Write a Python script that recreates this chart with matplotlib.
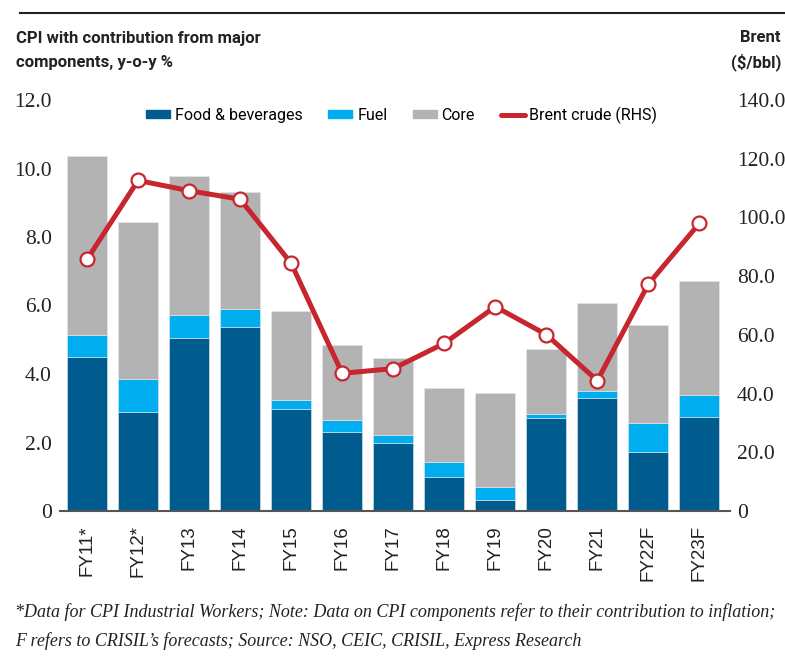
import numpy as np
import matplotlib.pyplot as plt
from matplotlib.patches import Patch
from matplotlib.lines import Line2D

years = ["FY11*", "FY12*", "FY13", "FY14", "FY15", "FY16", "FY17",
         "FY18", "FY19", "FY20", "FY21", "FY22F", "FY23F"]
food = [4.50, 2.90, 5.06, 5.38, 2.97, 2.32, 2.00, 1.00, 0.32, 2.72, 3.31, 1.73, 2.75]
fuel = [0.64, 0.96, 0.66, 0.52, 0.28, 0.35, 0.23, 0.43, 0.39, 0.11, 0.19, 0.84, 0.65]
core = [5.23, 4.59, 4.07, 3.40, 2.59, 2.18, 2.25, 2.16, 2.73, 1.89, 2.57, 2.85, 3.31]
brent = [85.7, 112.6, 109.1, 106.2, 84.4, 46.9, 48.5, 57.1, 69.6, 60.1, 44.4, 77.3, 98.0]

c_food = "#005b8f"
c_fuel = "#00adef"
c_core = "#b3b3b3"
c_red = "#c8262e"
serif = "Liberation Serif"
sans = "Roboto"

fig = plt.figure(figsize=(7.85, 6.65), dpi=100)
ax = fig.add_axes([60 / 785, 154 / 665, 670 / 785, 411 / 665])
x = np.arange(len(years))
food = np.array(food)
fuel = np.array(fuel)
core = np.array(core)

w = 0.78
ax.bar(x, food, w, color=c_food, edgecolor="#e8e8e8", linewidth=0.4)
ax.bar(x, fuel, w, bottom=food, color=c_fuel, edgecolor="#e8e8e8", linewidth=0.4)
ax.bar(x, core, w, bottom=food + fuel, color=c_core, edgecolor="#e8e8e8", linewidth=0.4)

ax.set_xlim(-0.53, len(years) - 0.4)
ax.set_ylim(0, 12)
ax.set_yticks(np.arange(0, 12.1, 2))
ax.set_yticklabels(["0"] + [f"{v:.1f}" for v in np.arange(2, 12.1, 2)],
                   fontfamily=serif, fontsize=15.5, color="#222222")
ax.set_xticks(x)
ax.set_xticklabels(years, rotation=90, fontfamily="Liberation Sans",
                   fontsize=13.5, color="#222222")
ax.tick_params(axis="both", length=0)
ax.tick_params(axis="y", pad=6)
ax.tick_params(axis="x", pad=10)
for s in ["top", "left", "right"]:
    ax.spines[s].set_visible(False)
ax.spines["bottom"].set_color("#555555")
ax.spines["bottom"].set_linewidth(1.5)

ax2 = ax.twinx()
ax2.plot(x, brent, color=c_red, linewidth=3.6, marker="o", markersize=10,
         markerfacecolor="white", markeredgecolor=c_red, markeredgewidth=1.6,
         zorder=5)
ax2.set_ylim(0, 140)
ax2.set_yticks(np.arange(0, 141, 20))
ax2.set_yticklabels(["0"] + [f"{v:.1f}" for v in np.arange(20, 141, 20)],
                    fontfamily=serif, fontsize=15.5, color="#222222")
ax2.tick_params(axis="y", length=0, pad=5)
for s in ["top", "left", "right", "bottom"]:
    ax2.spines[s].set_visible(False)

handles = [
    Patch(color=c_food, label="Food & beverages"),
    Patch(color=c_fuel, label="Fuel"),
    Patch(color=c_core, label="Core"),
    Line2D([0], [0], color=c_red, linewidth=3.6, solid_capstyle="round",
           label="Brent crude (RHS)"),
]
fig.legend(handles=handles, loc="center left", ncol=4,
           bbox_to_anchor=(132 / 785, 1 - 115 / 665), frameon=False,
           prop={"family": sans, "size": 11.5}, handlelength=1.5,
           handleheight=0.45, handletextpad=0.3, columnspacing=1.6)

# header
fig.add_artist(Line2D([20 / 785, 1.0], [1 - 13 / 665, 1 - 13 / 665],
                      color="#222222", linewidth=1.5))
fig.text(16 / 785, 1 - 38 / 665, "CPI with contribution from major",
         fontfamily=sans, fontweight="bold", fontsize=12, color="#222222",
         va="center", ha="left")
fig.text(16 / 785, 1 - 62 / 665, "components, y-o-y %",
         fontfamily=sans, fontweight="bold", fontsize=12, color="#222222",
         va="center", ha="left")
fig.text(781 / 785, 1 - 38 / 665, "Brent", fontfamily=sans, fontweight="bold",
         fontsize=12, color="#222222", va="center", ha="right")
fig.text(781 / 785, 1 - 62 / 665, "($/bbl)", fontfamily=sans, fontweight="bold",
         fontsize=12, color="#222222", va="center", ha="right")

# footnote
fig.text(15 / 785, 1 - 612 / 665,
         "*Data for CPI Industrial Workers; Note: Data on CPI components refer to their contribution to inflation;",
         fontfamily=serif, style="italic", fontsize=13, color="#222222",
         va="center", ha="left")
fig.text(15 / 785, 1 - 641 / 665,
         "F refers to CRISIL\u2019s forecasts; Source: NSO, CEIC, CRISIL, Express Research",
         fontfamily=serif, style="italic", fontsize=13, color="#222222",
         va="center", ha="left")

fig.savefig("out.png", dpi=100)
